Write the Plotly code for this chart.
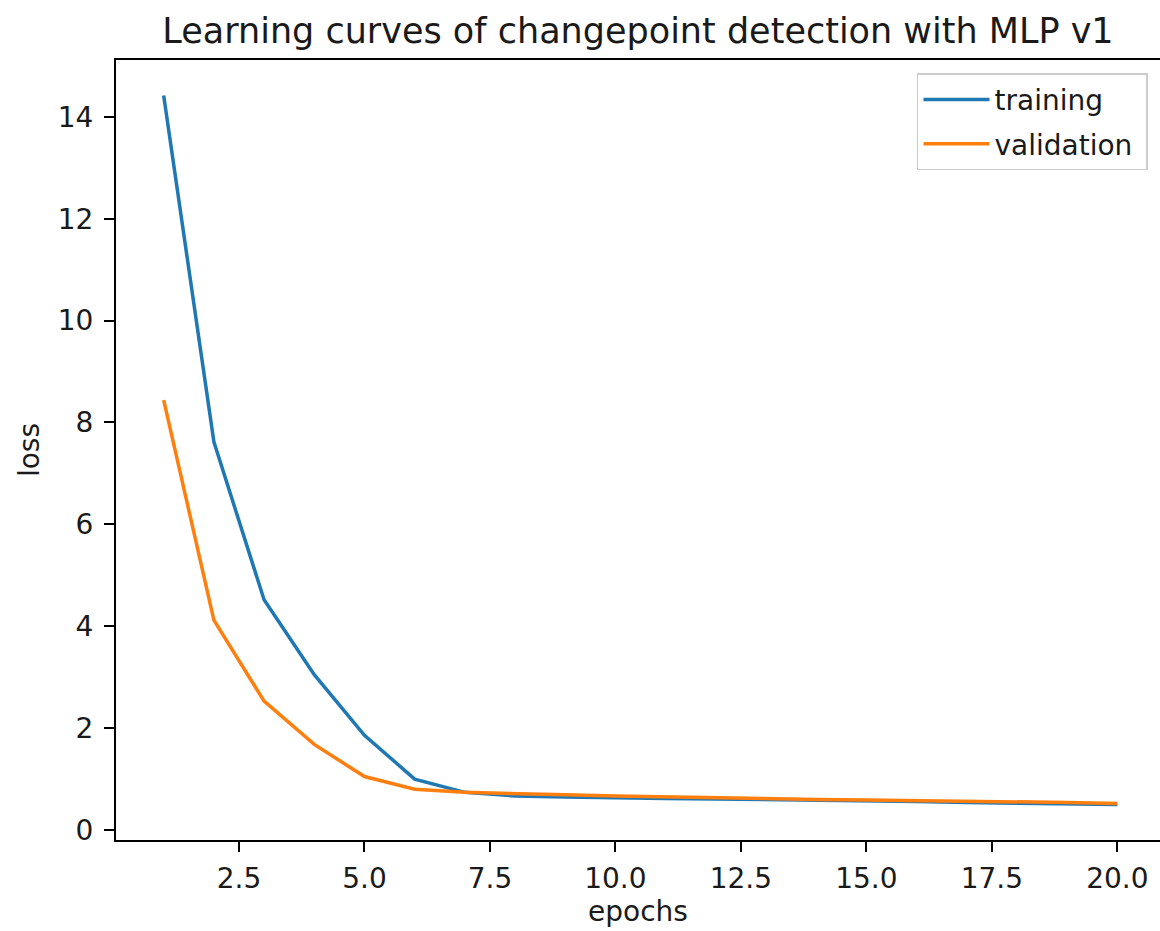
import plotly.graph_objects as go

epochs = list(range(1, 21))
training = [14.42, 7.62, 4.52, 3.05, 1.86, 1.00, 0.74, 0.67, 0.65, 0.63,
            0.62, 0.61, 0.60, 0.59, 0.57, 0.56, 0.54, 0.53, 0.51, 0.50]
validation = [8.44, 4.12, 2.53, 1.68, 1.05, 0.80, 0.74, 0.71, 0.69, 0.67,
              0.65, 0.63, 0.62, 0.60, 0.59, 0.58, 0.56, 0.55, 0.54, 0.52]
x_ticks = [2.5, 5.0, 7.5, 10.0, 12.5, 15.0, 17.5, 20.0]
y_ticks = [0, 2, 4, 6, 8, 10, 12, 14]

font = "DejaVu Sans"
tick_size = 28
txt = "#1a1a1a"

fig = go.Figure()
fig.add_trace(go.Scatter(x=epochs, y=training, mode="lines", name="training\u00a0",
                         legendgroup="t", line=dict(color="#1f77b4", width=3.5)))
fig.add_trace(go.Scatter(x=epochs, y=validation, mode="lines", name="validation\u00a0",
                         legendgroup="v", line=dict(color="#ff7f0e", width=3.5)))

ymin = min(min(training), min(validation))
ymax = max(max(training), max(validation))
ypad = (ymax - ymin) * 0.05
xpad = (max(epochs) - min(epochs)) * 0.05

axis_common = dict(showline=True, linecolor="black", linewidth=2,
                   ticks="outside", ticklen=10, tickwidth=2, tickcolor="black",
                   showgrid=False, zeroline=False,
                   tickfont=dict(family=font, size=tick_size, color=txt))

fig.update_layout(
    width=1160, height=931,
    margin=dict(l=116, r=0, t=60, b=91),
    paper_bgcolor="white", plot_bgcolor="white",
    font=dict(family=font, color="black"),
    title=dict(text="Learning curves of changepoint detection with MLP v1",
               x=0.5, xref="paper", xanchor="center", y=0.967, yanchor="middle",
               font=dict(family=font, size=35, color=txt)),
    xaxis=dict(range=[min(epochs) - xpad, 20.85], mirror=True,
               tickvals=x_ticks, tickformat=".1f", ticklabelstandoff=2,
               title=dict(text="epochs", font=dict(family=font, size=tick_size, color=txt), standoff=8),
               **axis_common),
    yaxis=dict(range=[ymin - ypad, ymax + ypad], tickvals=y_ticks, mirror=False,
               ticklabelstandoff=5,
               title=dict(text="loss", font=dict(family=font, size=tick_size, color=txt), standoff=10),
               **axis_common),
    legend=dict(x=0.9885, xanchor="right", y=0.983, yanchor="top",
                bgcolor="white", bordercolor="#cccccc", borderwidth=1.5,
                font=dict(family=font, size=tick_size, color=txt),
                itemwidth=66, tracegroupgap=5),
    showlegend=True,
)

fig.write_html("out.html")
